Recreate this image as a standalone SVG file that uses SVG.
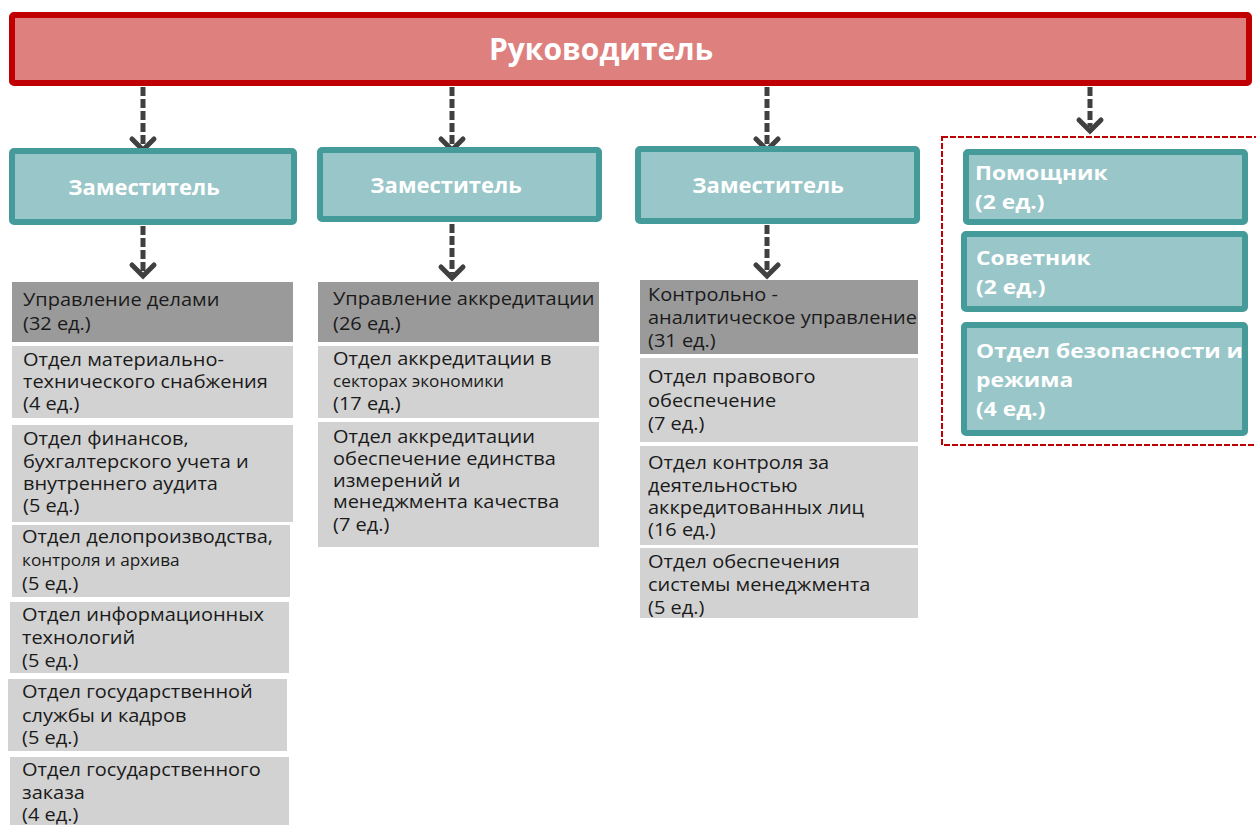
<svg xmlns="http://www.w3.org/2000/svg" width="1256" height="825" viewBox="0 0 1256 825">
<defs>
<style>
.top{fill:#DE807E;stroke:#C00000;stroke-width:6}
.dep{fill:#99C6C8;stroke:#459A9A;stroke-width:6}
.hd{fill:#9A9A9A}
.cell{fill:#D2D2D2}
.conn{stroke:#404040;stroke-width:5;stroke-dasharray:9 3;fill:none}
.head{stroke:#404040;stroke-width:5;fill:none;stroke-linecap:round}
.tw{font-family:"Open Sans","DejaVu Sans",sans-serif;font-weight:bold;fill:#FFFFFF}
.tb{font-family:"Open Sans","DejaVu Sans",sans-serif;font-size:18px;fill:#1A1A1A}
.ts{font-size:15.5px}
</style>
</defs>
<g id="connectors">
<line class="conn" x1="143" y1="87" x2="143" y2="146"/>
<polyline class="head" points="132,139 143,150 154,139"/>
<line class="conn" x1="452" y1="87" x2="452" y2="146"/>
<polyline class="head" points="441,139 452,150 463,139"/>
<line class="conn" x1="767" y1="87" x2="767" y2="146"/>
<polyline class="head" points="756,139 767,150 778,139"/>
<line class="conn" x1="1090" y1="87" x2="1090" y2="127"/>
<polyline class="head" points="1079,120 1090,131 1101,120"/>
<line class="conn" x1="143" y1="226" x2="143" y2="272"/>
<polyline class="head" points="132,265 143,276 154,265"/>
<line class="conn" x1="452" y1="224" x2="452" y2="274"/>
<polyline class="head" points="441,267 452,278 463,267"/>
<line class="conn" x1="767" y1="225" x2="767" y2="272"/>
<polyline class="head" points="756,265 767,276 778,265"/>
</g>
<g id="head">
<rect class="top" x="12" y="15" width="1237" height="68" rx="2"/>
<text class="tw" x="601" y="60" font-size="30" text-anchor="middle">Руководитель</text>
</g>
<g id="dep1">
<rect class="dep" x="12" y="151" width="282" height="71" rx="2"/>
<text class="tw" x="144" y="195" font-size="22" text-anchor="middle">Заместитель</text>
</g>
<g id="dep2">
<rect class="dep" x="320" y="150" width="279" height="69" rx="2"/>
<text class="tw" x="446" y="193" font-size="22" text-anchor="middle">Заместитель</text>
</g>
<g id="dep3">
<rect class="dep" x="638" y="149" width="279" height="72" rx="2"/>
<text class="tw" x="768" y="193" font-size="22" text-anchor="middle">Заместитель</text>
</g>
<g id="aides">
<rect x="942" y="137" width="330" height="308" fill="none" stroke="#C00000" stroke-width="2" stroke-dasharray="6 2"/>
</g>
<g id="pomoshnik">
<rect class="dep" x="966" y="152" width="279" height="70" rx="2"/>
<text class="tw" font-size="20" transform="translate(975 0) scale(1.14 1)"><tspan x="0" y="180">Помощник</tspan><tspan x="0" y="209">(2 ед.)</tspan></text>
</g>
<g id="sovetnik">
<rect class="dep" x="964" y="234" width="281" height="75" rx="2"/>
<text class="tw" font-size="20" transform="translate(976 0) scale(1.14 1)"><tspan x="0" y="265">Советник</tspan><tspan x="0" y="294">(2 ед.)</tspan></text>
</g>
<g id="bezopasnost">
<rect class="dep" x="964" y="325" width="281" height="108" rx="2"/>
<text class="tw" font-size="20" transform="translate(976 0) scale(1.14 1)"><tspan x="0" y="358">Отдел безопасности и</tspan><tspan x="0" y="387">режима</tspan><tspan x="0" y="416">(4 ед.)</tspan></text>
</g>
<g id="c1n1">
<rect class="hd" x="12" y="282" width="281" height="60"/>
<text class="tb" transform="translate(23 0) scale(1.11 1)"><tspan x="0" y="306">Управление делами</tspan><tspan x="0" y="330">(32 ед.)</tspan></text>
</g>
<g id="c1n2">
<rect class="cell" x="12" y="346" width="281" height="72"/>
<text class="tb" transform="translate(23 0) scale(1.11 1)"><tspan x="0" y="366">Отдел материально-</tspan><tspan x="0" y="388">технического снабжения</tspan><tspan x="0" y="410">(4 ед.)</tspan></text>
</g>
<g id="c1n3">
<rect class="cell" x="12" y="425" width="281" height="97"/>
<text class="tb" transform="translate(23 0) scale(1.11 1)"><tspan x="0" y="445">Отдел финансов,</tspan><tspan x="0" y="468">бухгалтерского учета и</tspan><tspan x="0" y="490">внутреннего аудита</tspan><tspan x="0" y="512">(5 ед.)</tspan></text>
</g>
<g id="c1n4">
<rect class="cell" x="12" y="525" width="278" height="72"/>
<text class="tb" transform="translate(22 0) scale(1.11 1)"><tspan x="0" y="543">Отдел делопроизводства,</tspan><tspan x="0" y="566" class="ts">контроля и архива</tspan><tspan x="0" y="590">(5 ед.)</tspan></text>
</g>
<g id="c1n5">
<rect class="cell" x="10" y="602" width="279" height="71"/>
<text class="tb" transform="translate(22 0) scale(1.11 1)"><tspan x="0" y="621">Отдел информационных</tspan><tspan x="0" y="644">технологий</tspan><tspan x="0" y="667">(5 ед.)</tspan></text>
</g>
<g id="c1n6">
<rect class="cell" x="8" y="679" width="279" height="72"/>
<text class="tb" transform="translate(22 0) scale(1.11 1)"><tspan x="0" y="698">Отдел государственной</tspan><tspan x="0" y="722">службы и кадров</tspan><tspan x="0" y="744">(5 ед.)</tspan></text>
</g>
<g id="c1n7">
<rect class="cell" x="10" y="757" width="279" height="70"/>
<text class="tb" transform="translate(22 0) scale(1.11 1)"><tspan x="0" y="776">Отдел государственного</tspan><tspan x="0" y="799">заказа</tspan><tspan x="0" y="821">(4 ед.)</tspan></text>
</g>
<g id="c2n1">
<rect class="hd" x="318" y="282" width="281" height="60"/>
<text class="tb" transform="translate(333 0) scale(1.11 1)"><tspan x="0" y="305">Управление аккредитации</tspan><tspan x="0" y="330">(26 ед.)</tspan></text>
</g>
<g id="c2n2">
<rect class="cell" x="318" y="346" width="281" height="72"/>
<text class="tb" transform="translate(333 0) scale(1.11 1)"><tspan x="0" y="365">Отдел аккредитации в</tspan><tspan x="0" y="387" class="ts">секторах экономики</tspan><tspan x="0" y="410">(17 ед.)</tspan></text>
</g>
<g id="c2n3">
<rect class="cell" x="318" y="422" width="281" height="125"/>
<text class="tb" transform="translate(333 0) scale(1.11 1)"><tspan x="0" y="443">Отдел аккредитации</tspan><tspan x="0" y="465">обеспечение единства</tspan><tspan x="0" y="487">измерений и</tspan><tspan x="0" y="508">менеджмента качества</tspan><tspan x="0" y="531">(7 ед.)</tspan></text>
</g>
<g id="c3n1">
<rect class="hd" x="640" y="280" width="278" height="74"/>
<text class="tb" transform="translate(648 0) scale(1.11 1)"><tspan x="0" y="301">Контрольно -</tspan><tspan x="0" y="324">аналитическое управление</tspan><tspan x="0" y="347">(31 ед.)</tspan></text>
</g>
<g id="c3n2">
<rect class="cell" x="640" y="358" width="278" height="84"/>
<text class="tb" transform="translate(648 0) scale(1.11 1)"><tspan x="0" y="383">Отдел правового</tspan><tspan x="0" y="407">обеспечение</tspan><tspan x="0" y="430">(7 ед.)</tspan></text>
</g>
<g id="c3n3">
<rect class="cell" x="640" y="446" width="278" height="99"/>
<text class="tb" transform="translate(648 0) scale(1.11 1)"><tspan x="0" y="469">Отдел контроля за</tspan><tspan x="0" y="492">деятельностью</tspan><tspan x="0" y="514">аккредитованных лиц</tspan><tspan x="0" y="536">(16 ед.)</tspan></text>
</g>
<g id="c3n4">
<rect class="cell" x="640" y="548" width="278" height="70"/>
<text class="tb" transform="translate(648 0) scale(1.11 1)"><tspan x="0" y="568">Отдел обеспечения</tspan><tspan x="0" y="591">системы менеджмента</tspan><tspan x="0" y="614">(5 ед.)</tspan></text>
</g>
</svg>
